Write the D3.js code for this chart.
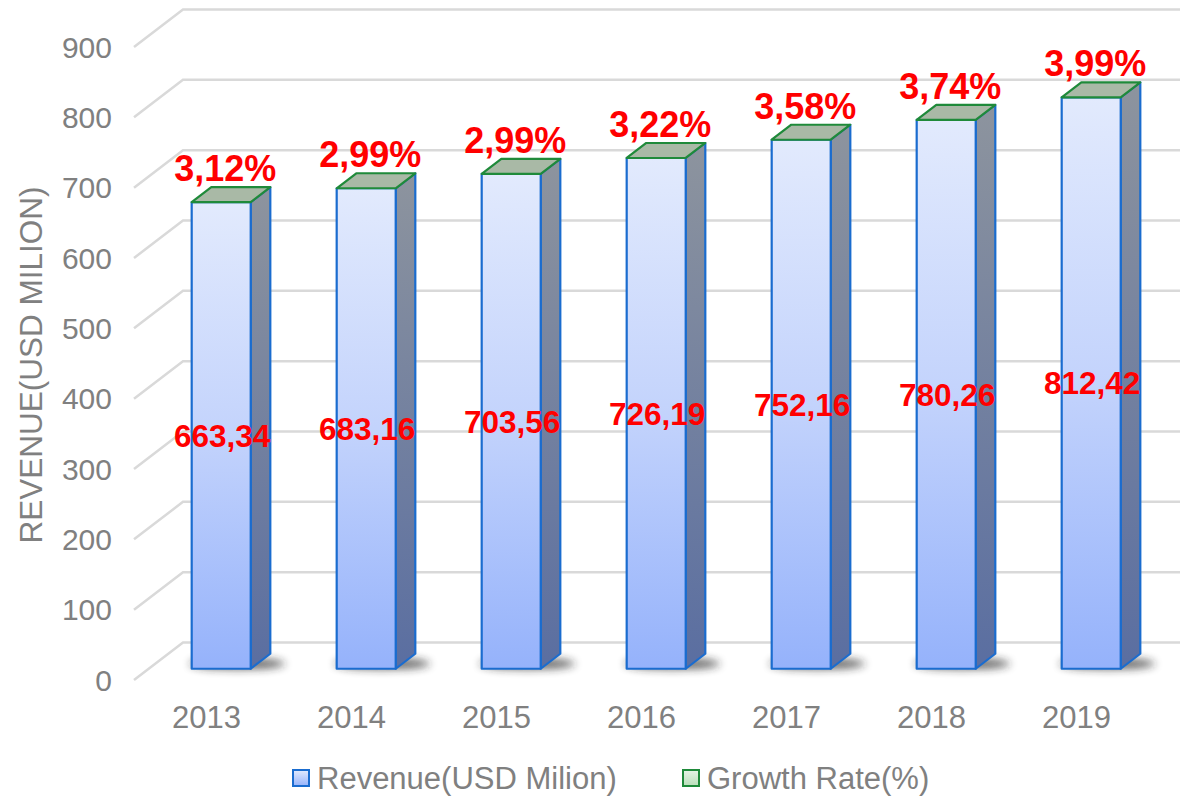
<!DOCTYPE html>
<html><head><meta charset="utf-8">
<script src="https://cdn.jsdelivr.net/npm/d3@7/dist/d3.min.js"></script>
<style>html,body{margin:0;padding:0;background:#fff;}svg{display:block;}</style>
</head><body>
<svg id="c" width="1180" height="798"></svg>
<script>
const years = ["2013","2014","2015","2016","2017","2018","2019"];
const revenue = [663.34, 683.16, 703.56, 726.19, 752.16, 780.26, 812.42];
const revenueLabels = ["663,34","683,16","703,56","726,19","752,16","780,26","812,42"];
const growthLabels = ["3,12%","2,99%","2,99%","3,22%","3,58%","3,74%","3,99%"];
const yTicks = [0,100,200,300,400,500,600,700,800,900];
const legendNames = ["Revenue(USD Milion)","Growth Rate(%)"];

const svg = d3.select("#c");
const FONT = "'Liberation Sans', Arial, sans-serif";
const W = 1180;
const DX = 49, DY = 37.5;      // depth vector
const D0 = 0.3, D1 = 0.7;      // bar front / back depth

const x = d3.scaleBand().domain(years).range([134, 1149]).paddingInner(0.593).paddingOuter(0.2965);
const y = d3.scaleLinear().domain([0, 900]).range([680, 47]);
const proj = (xx, v, d) => [xx + d*DX, y(v) - d*DY];

const defs = svg.append("defs");
const gF = defs.append("linearGradient").attr("id","gFront").attr("x1",0).attr("y1",0).attr("x2",0).attr("y2",1);
gF.append("stop").attr("offset","0%").attr("stop-color","#e2eafd");
gF.append("stop").attr("offset","50%").attr("stop-color","#c3d3fc");
gF.append("stop").attr("offset","100%").attr("stop-color","#95b2fb");
const gS = defs.append("linearGradient").attr("id","gSide").attr("x1",0).attr("y1",0).attr("x2",0).attr("y2",1);
gS.append("stop").attr("offset","0%").attr("stop-color","#8d949e");
gS.append("stop").attr("offset","100%").attr("stop-color","#5a6ea1");
const gL = defs.append("linearGradient").attr("id","gLeg").attr("x1",0).attr("y1",0).attr("x2",0).attr("y2",1);
gL.append("stop").attr("offset","0%").attr("stop-color","#e2eafd");
gL.append("stop").attr("offset","100%").attr("stop-color","#95b2fb");
const gG = defs.append("linearGradient").attr("id","gLegG").attr("x1",0).attr("y1",0).attr("x2",0).attr("y2",1);
gG.append("stop").attr("offset","0%").attr("stop-color","#e6f4e6");
gG.append("stop").attr("offset","100%").attr("stop-color","#b9dfb9");
const blur = defs.append("filter").attr("id","blur").attr("x","-50%").attr("y","-100%").attr("width","200%").attr("height","300%");
blur.append("feGaussianBlur").attr("stdDeviation", 4);

// gridlines
const grid = svg.append("g");
yTicks.forEach(t => {
  const a = proj(134, t, 0), b = proj(134, t, 1);
  grid.append("path").attr("d", `M${a[0]},${a[1]}L${b[0]},${b[1]}L${W},${b[1]}`)
    .attr("fill","none").attr("stroke","#d9d9d9").attr("stroke-width",2.5);
});

// y tick labels
svg.append("g").selectAll("text").data(yTicks).join("text")
  .attr("x", 112).attr("y", d => y(d)).attr("dy","0.36em")
  .attr("text-anchor","end").attr("font-family",FONT).attr("font-size",30).attr("fill","#808080")
  .text(d => d);

// y title
svg.append("text").attr("transform","translate(42,365) rotate(-90)")
  .attr("text-anchor","middle").attr("font-family",FONT).attr("font-size",31.5).attr("fill","#808080")
  .text("REVENUE(USD MILION)");

// x labels
svg.append("g").selectAll("text").data(years).join("text")
  .attr("x", d => x(d) + x.bandwidth()/2).attr("y", 728)
  .attr("text-anchor","middle").attr("font-family",FONT).attr("font-size",31).attr("fill","#808080")
  .text(d => d);

const bars = years.map((yr, i) => ({yr, v: revenue[i], i}));

// shadows
svg.append("g").selectAll("ellipse").data(bars).join("ellipse")
  .attr("cx", d => proj(x(d.yr) + x.bandwidth()/2, 0, D0)[0] + 16)
  .attr("cy", d => proj(0, 0, D0)[1] - 5)
  .attr("rx", 48).attr("ry", 5.5)
  .attr("fill","#222").attr("opacity",0.7).attr("filter","url(#blur)");

const poly = pts => "M" + pts.map(p => p.join(",")).join("L") + "Z";
const gb = svg.append("g");
bars.forEach(d => {
  const x0 = x(d.yr), x1 = x0 + x.bandwidth();
  const g = gb.append("g");
  g.append("path").attr("d", poly([proj(x1,0,D0), proj(x1,0,D1), proj(x1,d.v,D1), proj(x1,d.v,D0)]))
    .attr("fill","url(#gSide)").attr("stroke","#1a6ccf").attr("stroke-width",2.2).attr("stroke-linejoin","round");
  g.append("path").attr("d", poly([proj(x0,0,D0), proj(x1,0,D0), proj(x1,d.v,D0), proj(x0,d.v,D0)]))
    .attr("fill","url(#gFront)").attr("stroke","#1a6ccf").attr("stroke-width",2.2).attr("stroke-linejoin","round");
  g.append("path").attr("d", poly([proj(x0,d.v,D0), proj(x1,d.v,D0), proj(x1,d.v,D1), proj(x0,d.v,D1)]))
    .attr("fill","#a9b9a6").attr("stroke","#1f8a3a").attr("stroke-width",2.2).attr("stroke-linejoin","round");
});

// value labels
svg.append("g").selectAll("text").data(bars).join("text")
  .attr("x", d => proj(x(d.yr) + x.bandwidth()/2, 0, D0)[0] + 1)
  .attr("y", d => (proj(0, 0, D0)[1] + proj(0, d.v, D0)[1]) / 2).attr("dy","0.36em")
  .attr("text-anchor","middle").attr("font-family",FONT).attr("font-weight","bold")
  .attr("font-size",31.5).attr("fill","#ff0000")
  .text(d => revenueLabels[d.i]);

// growth labels
svg.append("g").selectAll("text").data(bars).join("text")
  .attr("x", d => proj(x(d.yr) + x.bandwidth()/2, 0, D0)[0] + 4)
  .attr("y", d => proj(0, d.v, D0)[1] - 21)
  .attr("text-anchor","middle").attr("font-family",FONT).attr("font-weight","bold")
  .attr("font-size",36).attr("fill","#ff0000")
  .text(d => growthLabels[d.i]);

// legend
const leg = svg.append("g");
const legX = [293, 683];
const legFill = ["url(#gLeg)","url(#gLegG)"];
const legStroke = ["#1a6ccf","#1f8a3a"];
legendNames.forEach((n, i) => {
  leg.append("rect").attr("x", legX[i]).attr("y", 770).attr("width",16).attr("height",16)
    .attr("fill", legFill[i]).attr("stroke", legStroke[i]).attr("stroke-width",2);
  leg.append("text").attr("x", legX[i] + 24).attr("y", 789)
    .attr("font-family",FONT).attr("font-size",31).attr("fill","#808080").text(n);
});
</script>
</body></html>
